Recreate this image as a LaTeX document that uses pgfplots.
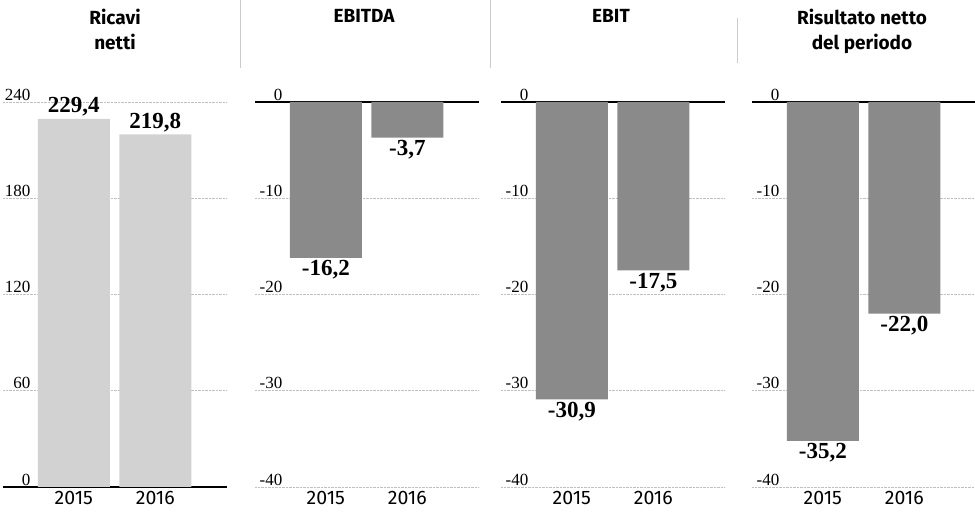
\documentclass[border=0pt]{standalone}
\usepackage{fontspec}
\setmainfont{Liberation Serif}
\newfontfamily\titlefont{Fira Sans}
\usepackage{pgfplots}
\pgfplotsset{compat=1.18}

\definecolor{lightbar}{RGB}{210,210,210}
\definecolor{darkbar}{RGB}{138,138,138}

\pgfplotsset{
  panel/.style={
    scale only axis, width=224pt, height=385pt, anchor=south west,
    xmin=-0.87, xmax=1.88,
    axis line style={draw=none},
    major tick length=0pt,
    xtick={0,1}, xticklabels={2015,2016},
    xticklabel style={font=\titlefont\fontsize{19.5}{22}\selectfont, yshift=-1pt},
    yticklabel style={font=\fontsize{17}{19}\selectfont, anchor=south east, xshift=29pt, inner sep=1.5pt},
    ymajorgrids, major grid style={densely dotted, gray!50, line width=0.8pt},
    ybar, bar width=72pt, bar shift=0pt,
    nodes near coords={\pgfmathprintnumber[fixed,fixed zerofill,precision=1,use comma,assume math mode=true]{\pgfplotspointmeta}},
    nodes near coords align={vertical},
    every node near coord/.append style={font=\bfseries\fontsize{23}{25}\selectfont, text=black, inner sep=2.5pt},
    clip=false,
  },
  negpanel/.style={
    panel, ymin=-40, ymax=0,
    ytick={-40,-30,-20,-10,0}, yticklabels={-40,-30,-20,-10,0},
    extra y ticks={0}, extra y tick labels={},
    extra y tick style={major grid style={solid, black, line width=1.3pt}},
  },
}

\begin{document}
\begin{tikzpicture}
\useasboundingbox (0,0) rectangle (975pt,518pt);

% Panel 1: Ricavi netti
\begin{axis}[panel, at={(3pt,31pt)}, ymin=0, ymax=240,
  ytick={0,60,120,180,240}, yticklabels={0,60,120,180,240},
  extra y ticks={0}, extra y tick labels={},
  extra y tick style={major grid style={solid, black, line width=1.3pt}}]
\addplot[fill=lightbar, draw=none] coordinates {(0,229.4) (1,219.8)};
\end{axis}

% Panel 2: EBITDA
\begin{axis}[negpanel, at={(255pt,31pt)}]
\addplot[fill=darkbar, draw=none] coordinates {(0,-16.2) (1,-3.7)};
\end{axis}

% Panel 3: EBIT
\begin{axis}[negpanel, at={(501pt,31pt)}]
\addplot[fill=darkbar, draw=none] coordinates {(0,-30.9) (1,-17.5)};
\end{axis}

% Panel 4: Risultato netto del periodo
\begin{axis}[negpanel, at={(752pt,31pt)}]
\addplot[fill=darkbar, draw=none] coordinates {(0,-35.2) (1,-22.0)};
\end{axis}

% Titles
\tikzset{ttl/.style={font=\titlefont\bfseries\fontsize{19}{25}\selectfont, align=center, anchor=north, inner sep=0pt}}
\node[ttl] at (115pt,509pt) {Ricavi\\netti};
\node[ttl] at (364pt,509pt) {EBITDA};
\node[ttl] at (611pt,509pt) {EBIT};
\node[ttl] at (862pt,509pt) {Risultato netto\\del periodo};

% separators
\draw[gray!40, line width=1pt] (240pt,518pt) -- (240pt,450pt);
\draw[gray!40, line width=1pt] (490pt,518pt) -- (490pt,450pt);
\draw[gray!40, line width=1pt] (737pt,500pt) -- (737pt,455pt);
\end{tikzpicture}
\end{document}
